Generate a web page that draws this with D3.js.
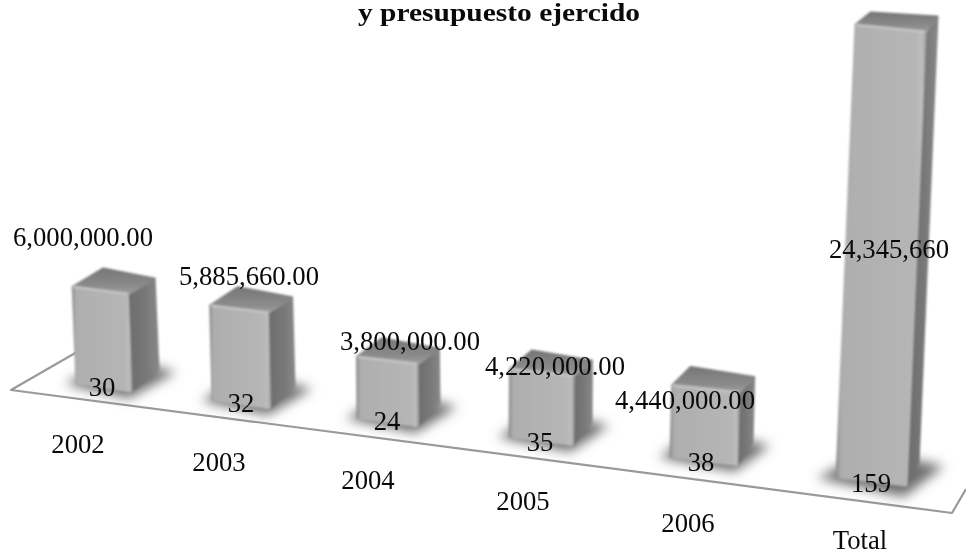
<!DOCTYPE html>
<html><head><meta charset="utf-8">
<script src="https://cdn.jsdelivr.net/npm/d3@7"></script>
<style>
html,body{margin:0;padding:0;background:#fff;overflow:hidden}
svg{display:block}
text{font-family:"Liberation Serif","Times New Roman",serif;fill:#0a0a0a;font-size:26.7px;text-anchor:middle}
</style></head><body>
<svg id="c" width="966" height="555"></svg>
<script>
const categories = ["2002","2003","2004","2005","2006","Total"];
const amounts = [6000000,5885660,3800000,4220000,4440000,24345660];
const amountLabels = ["6,000,000.00","5,885,660.00","3,800,000.00","4,220,000.00","4,440,000.00","24,345,660"];
const counts = [30,32,24,35,38,159];
const titleText = "y presupuesto ejercido";

// hand placed text, as in the reference (not data)
const amountLabelAt = [[83,246],[249,285],[410,350],[555,375],[685,409],[889,258]];
const countLabelAt  = [[102,396],[241,412],[387,430],[540,451],[701,471],[871,492]];
const yearLabelAt   = [[78,453],[219,471],[368,489],[523,510],[688,532],[860,549]];

const svg = d3.select("#c");
const defs = svg.append("defs");
const blur = (id,s)=>defs.append("filter").attr("id",id)
  .attr("x","-50%").attr("y","-50%").attr("width","200%").attr("height","200%")
  .append("feGaussianBlur").attr("stdDeviation",s);
blur("shadowBlur",6); blur("soft",0.9);
const grad = (id,x2,y2,stops)=>{
  const g = defs.append("linearGradient").attr("id",id).attr("x1",0).attr("y1",0).attr("x2",x2).attr("y2",y2);
  stops.forEach(([o,c])=>g.append("stop").attr("offset",o).attr("stop-color",c));
};
grad("front",1,0,[[0,"#949494"],[0.05,"#aeaeae"],[0.9,"#b6b6b6"],[0.97,"#bebebe"],[1,"#a4a4a4"]]);
grad("side",1,0,[[0,"#6c6c6c"],[0.6,"#787878"],[1,"#868686"]]);
grad("top",0,1,[[0,"#777"],[0.7,"#8c8c8c"],[1,"#a0a0a0"]]);

// scales
const index = d3.scaleLinear().domain([0,1,2,3,4,5]).range([77,213,358,510,671,837]);
const baseY = d3.scaleLinear().domain([77,837]).range([383,477]);
const widthAt = d3.scaleLinear().domain([77,837]).range([54,69]);
const depthAt = d3.scaleLinear().domain([77,837]).range([27,12]);
const leanAt = d3.scaleLinear().domain([77,837]).range([-0.04,0.042]);
const heightOf = d3.scaleLinear().domain([0,6000000,24345660]).range([0,96,452]);
const riseOf = d3.scaleLinear().domain([96,452]).range([18,12]).clamp(true);
const floorY = d3.scaleLinear().domain([11,952]).range([390,513]);

const line = d3.line();

// floor
svg.append("path")
  .attr("d",line([[77,352],[11,floorY(11)],[952,floorY(952)],[966,489]]))
  .attr("fill","none").attr("stroke","#9a9a9a").attr("stroke-width",2.2).attr("stroke-linejoin","round");

const geo = amounts.map((v,i)=>{
  const x=index(i), y=baseY(x), w=widthAt(x), d=depthAt(x), h=heightOf(v), l=leanAt(x)*h;
  const BL=[x,y], BR=[x+w,y+8], TL=[x+l,y-h], TR=[x+w+l,y-h+7];
  const BB=[BR[0]+d,BR[1]-22], TB=[TR[0]+d,TR[1]-15], TK=[TL[0]+d+3,TL[1]-riseOf(h)], BK=[BL[0]+d,BL[1]-22];
  return {BL,BR,TL,TR,BB,TB,TK,BK,i};
});

// shadows
svg.append("g").attr("filter","url(#shadowBlur)").selectAll("path").data(geo).join("path")
  .attr("d",g=>{
    const e = g.i===5?20:12;
    return line([[g.BL[0]-e,g.BL[1]+1],[g.BR[0]-2,g.BR[1]+e*0.6],[g.BB[0]+e+6,g.BB[1]+3],[g.BK[0]+e,g.BK[1]-4]])+"Z";
  })
  .attr("fill","#5e5e5e").attr("opacity",0.9);

// bars
const bars = svg.append("g").attr("filter","url(#soft)").selectAll("g").data(geo).join("g");
const face = (name,pts,fill)=>bars.append("path").attr("class",name)
  .attr("d",g=>line(pts(g))+"Z").attr("fill",fill).attr("stroke",fill).attr("stroke-width",3).attr("stroke-linejoin","round");
face("side",g=>[g.BR,g.BB,g.TB,g.TR],"url(#side)");
face("top",g=>[g.TL,g.TR,g.TB,g.TK],"url(#top)");
face("front",g=>[g.BL,g.BR,g.TR,g.TL],"url(#front)");
bars.append("path").attr("d",g=>line([g.TL,g.TR])).attr("fill","none").attr("stroke","#c6c6c6").attr("stroke-width",2);

// text
svg.append("text").attr("x",499).attr("y",20.5).attr("font-weight","bold").style("font-size","25px")
  .attr("textLength",282).attr("lengthAdjust","spacingAndGlyphs").text(titleText);
const labels = (arr,at)=>svg.append("g").selectAll("text").data(arr).join("text")
  .attr("x",(d,i)=>at[i][0]).attr("y",(d,i)=>at[i][1]).text(d=>d);
labels(amountLabels,amountLabelAt);
labels(counts,countLabelAt);
labels(categories,yearLabelAt);
</script>
</body></html>
